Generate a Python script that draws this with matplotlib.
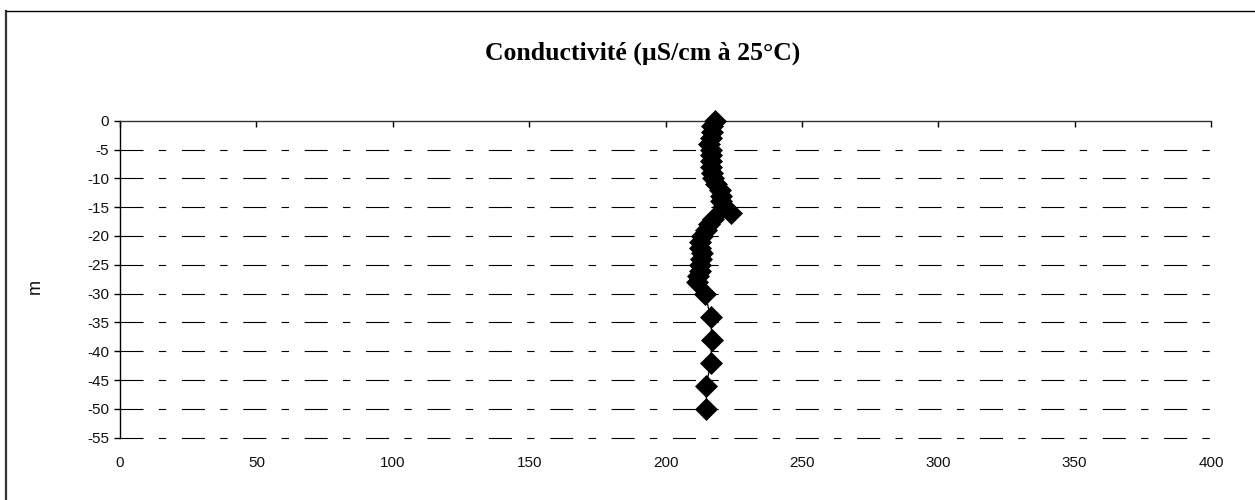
import matplotlib
matplotlib.use("Agg")
import matplotlib.pyplot as plt
from matplotlib.lines import Line2D

# Data: conductivity (µS/cm at 25°C) vs depth (m)
depth = [0, -1, -2, -3, -4, -5, -6, -7, -8, -9, -10, -11, -12, -13, -14, -15,
         -16, -17, -18, -19, -20, -21, -22, -23, -24, -25, -26, -27, -28, -30,
         -34, -38, -42, -46, -50]
conductivity = [218, 217, 217, 216.5, 216, 216.5, 216.5, 216.5, 216.5, 217, 217.5,
                218.5, 220, 220.5, 220.5, 221,
                224, 217.5, 216, 215, 213.5, 212.5, 212.5, 213.5, 213, 212.5, 212.5,
                212, 211.5, 214.5,
                216.5, 217, 216.5, 215, 215]
x_ticks = [0, 50, 100, 150, 200, 250, 300, 350, 400]
y_ticks = [0, -5, -10, -15, -20, -25, -30, -35, -40, -45, -50, -55]
title = "Conductivité (µS/cm à 25°C)"
y_label = "m"

plt.rcParams['font.family'] = ['Liberation Sans', 'DejaVu Sans']
plt.rcParams['lines.scale_dashes'] = False

W, H = 1255, 500
fig = plt.figure(figsize=(W / 100, H / 100), dpi=100)
left, right, top, bottom = 120, 1211, 120.7, 437.7
ax = fig.add_axes([left / W, 1 - bottom / H, (right - left) / W, (bottom - top) / H])

# gridlines (dashed)
dash = (0, (16.6, 11.0, 5.3, 11.3))
for yv in y_ticks[1:]:
    ax.axhline(yv, color='black', lw=0.8, linestyle=dash, zorder=1, clip_on=False)

ax.plot(conductivity, depth, color='black', lw=0.9, marker='D', markersize=11,
        markerfacecolor='black', markeredgecolor='black', markeredgewidth=0.5,
        zorder=3, clip_on=False)

ax.set_xlim(0, 400)
ax.set_ylim(-55, 0)
ax.set_xticks(x_ticks)
ax.set_yticks(y_ticks)
ax.set_xticklabels([str(v) for v in x_ticks])
ax.set_yticklabels([str(v) for v in y_ticks])

for s in ['bottom', 'right']:
    ax.spines[s].set_visible(False)
ax.spines['left'].set_color('black')
ax.spines['top'].set_color('#333333')
ax.spines['left'].set_linewidth(1.0)
ax.spines['top'].set_linewidth(1.0)

ax.tick_params(axis='x', bottom=False, top=True, labelbottom=True, labeltop=False,
               direction='in', length=4.5, width=1.0, pad=13.5, labelsize=11,
               labelcolor='#111111')
ax.tick_params(axis='y', left=True, direction='out', length=4.5, width=1.0,
               pad=3.5, labelsize=11, labelcolor='#111111')

fig.text(35 / W, 1 - 287 / H, y_label, rotation=90, ha='center', va='center',
         fontsize=13, color='#111111')
fig.text(643 / W, 1 - 53 / H, title, ha='center', va='center', fontsize=18.5,
         fontweight='bold', family=['Liberation Serif', 'DejaVu Serif'])

# outer chart frame (left and top edges)
fig.add_artist(Line2D([6 / W, 6 / W], [0, 1 - 11 / H], transform=fig.transFigure,
                      color='#333333', lw=1.6))
fig.add_artist(Line2D([6 / W, 1], [1 - 11 / H, 1 - 11 / H], transform=fig.transFigure,
                      color='black', lw=1.0))

fig.savefig("out.png", dpi=100)
